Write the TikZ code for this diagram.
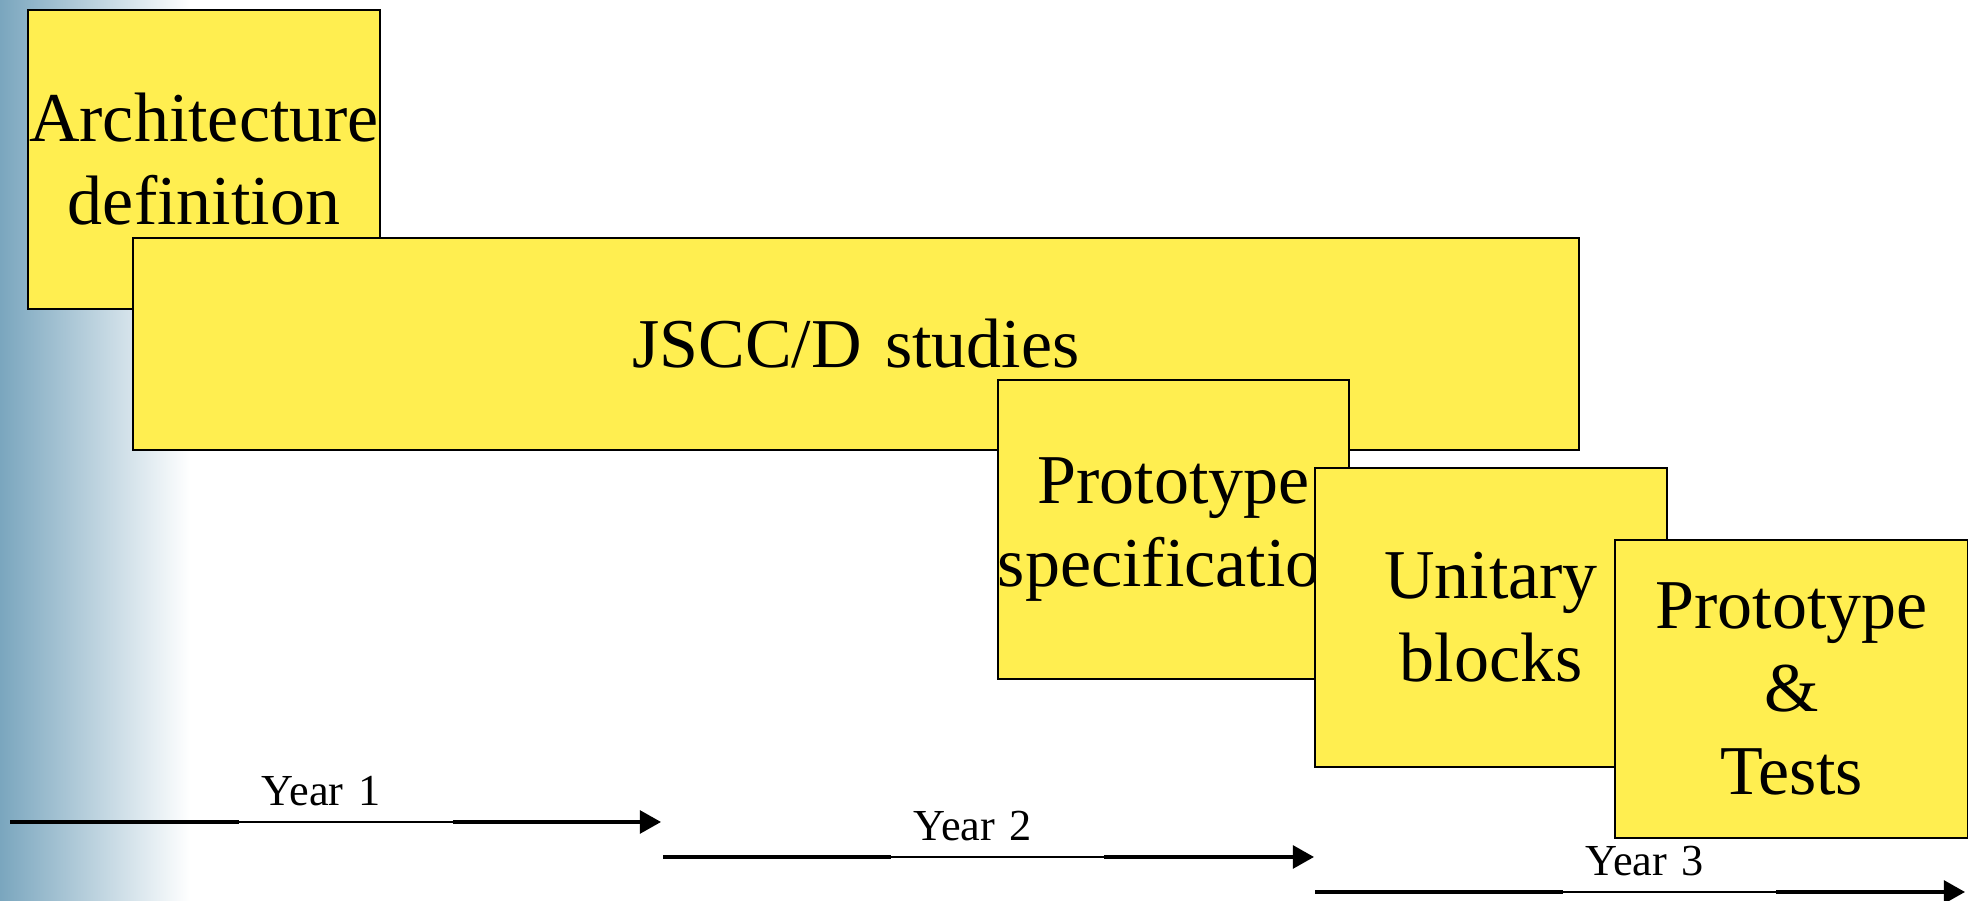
\documentclass[tikz,border=0pt]{standalone}
\usepackage{fontspec}
\setmainfont{Liberation Serif}
\usetikzlibrary{arrows.meta}
\definecolor{taskyellow}{RGB}{255,238,80}
\definecolor{stripblue}{RGB}{122,166,190}
\tikzset{
  task/.style={draw=black, line width=0.6pt, fill=taskyellow, align=center, inner sep=0pt,
    font=\fontsize{19.9}{23.6}\selectfont},
  yearlabel/.style={anchor=south, inner xsep=0.22cm, inner ysep=0.15cm, text width=1.68cm,
    align=left, font=\fontsize{12.6}{15}\selectfont},
  yearline/.style={line width=0.9pt},
  yeartip/.style={line width=0.9pt, -{Triangle[length=6pt,width=6.5pt]}}
}

\begin{document}
\begin{tikzpicture}[x=0.01cm,y=-0.01cm]
    \useasboundingbox (0,0) rectangle (1968,901);
    \shade [left color=stripblue, right color=white] (0,0) rectangle (190,901);
    \node [task, text width=3.52cm, minimum height=2.99cm] (arch) at (204,159.5) {Architecture\\definition};
    \node [task, text width=14.46cm, minimum height=2.12cm] (jscc) at (856,344) {JSCC/D studies};
    \node [task, text width=3.51cm, minimum height=2.99cm] (spec) at (1173.5,529.5) {Prototype\\specification};
    \node [task, text width=3.52cm, minimum height=2.99cm] (unit) at (1491,617.5) {Unitary\\blocks};
    \node [task, text width=3.53cm, minimum height=2.98cm] (tests) at (1791.5,689) {Prototype\\\&\\Tests};
    \coordinate (y1a) at (10,822);
    \coordinate (y1b) at (661,822);
    \node [yearlabel] (y1) at (346,822) {Year 1};
    \draw [yearline] (y1a) -- (y1.south west);
    \draw [thin] (y1.south west) -- (y1.south east);
    \draw [yeartip] (y1.south east) -- (y1b);
    \coordinate (y2a) at (663,857);
    \coordinate (y2b) at (1314,857);
    \node [yearlabel] (y2) at (997.5,857) {Year 2};
    \draw [yearline] (y2a) -- (y2.south west);
    \draw [thin] (y2.south west) -- (y2.south east);
    \draw [yeartip] (y2.south east) -- (y2b);
    \coordinate (y3a) at (1315,892);
    \coordinate (y3b) at (1965,892);
    \node [yearlabel] (y3) at (1669.5,892) {Year 3};
    \draw [yearline] (y3a) -- (y3.south west);
    \draw [thin] (y3.south west) -- (y3.south east);
    \draw [yeartip] (y3.south east) -- (y3b);
\end{tikzpicture}
\end{document}
